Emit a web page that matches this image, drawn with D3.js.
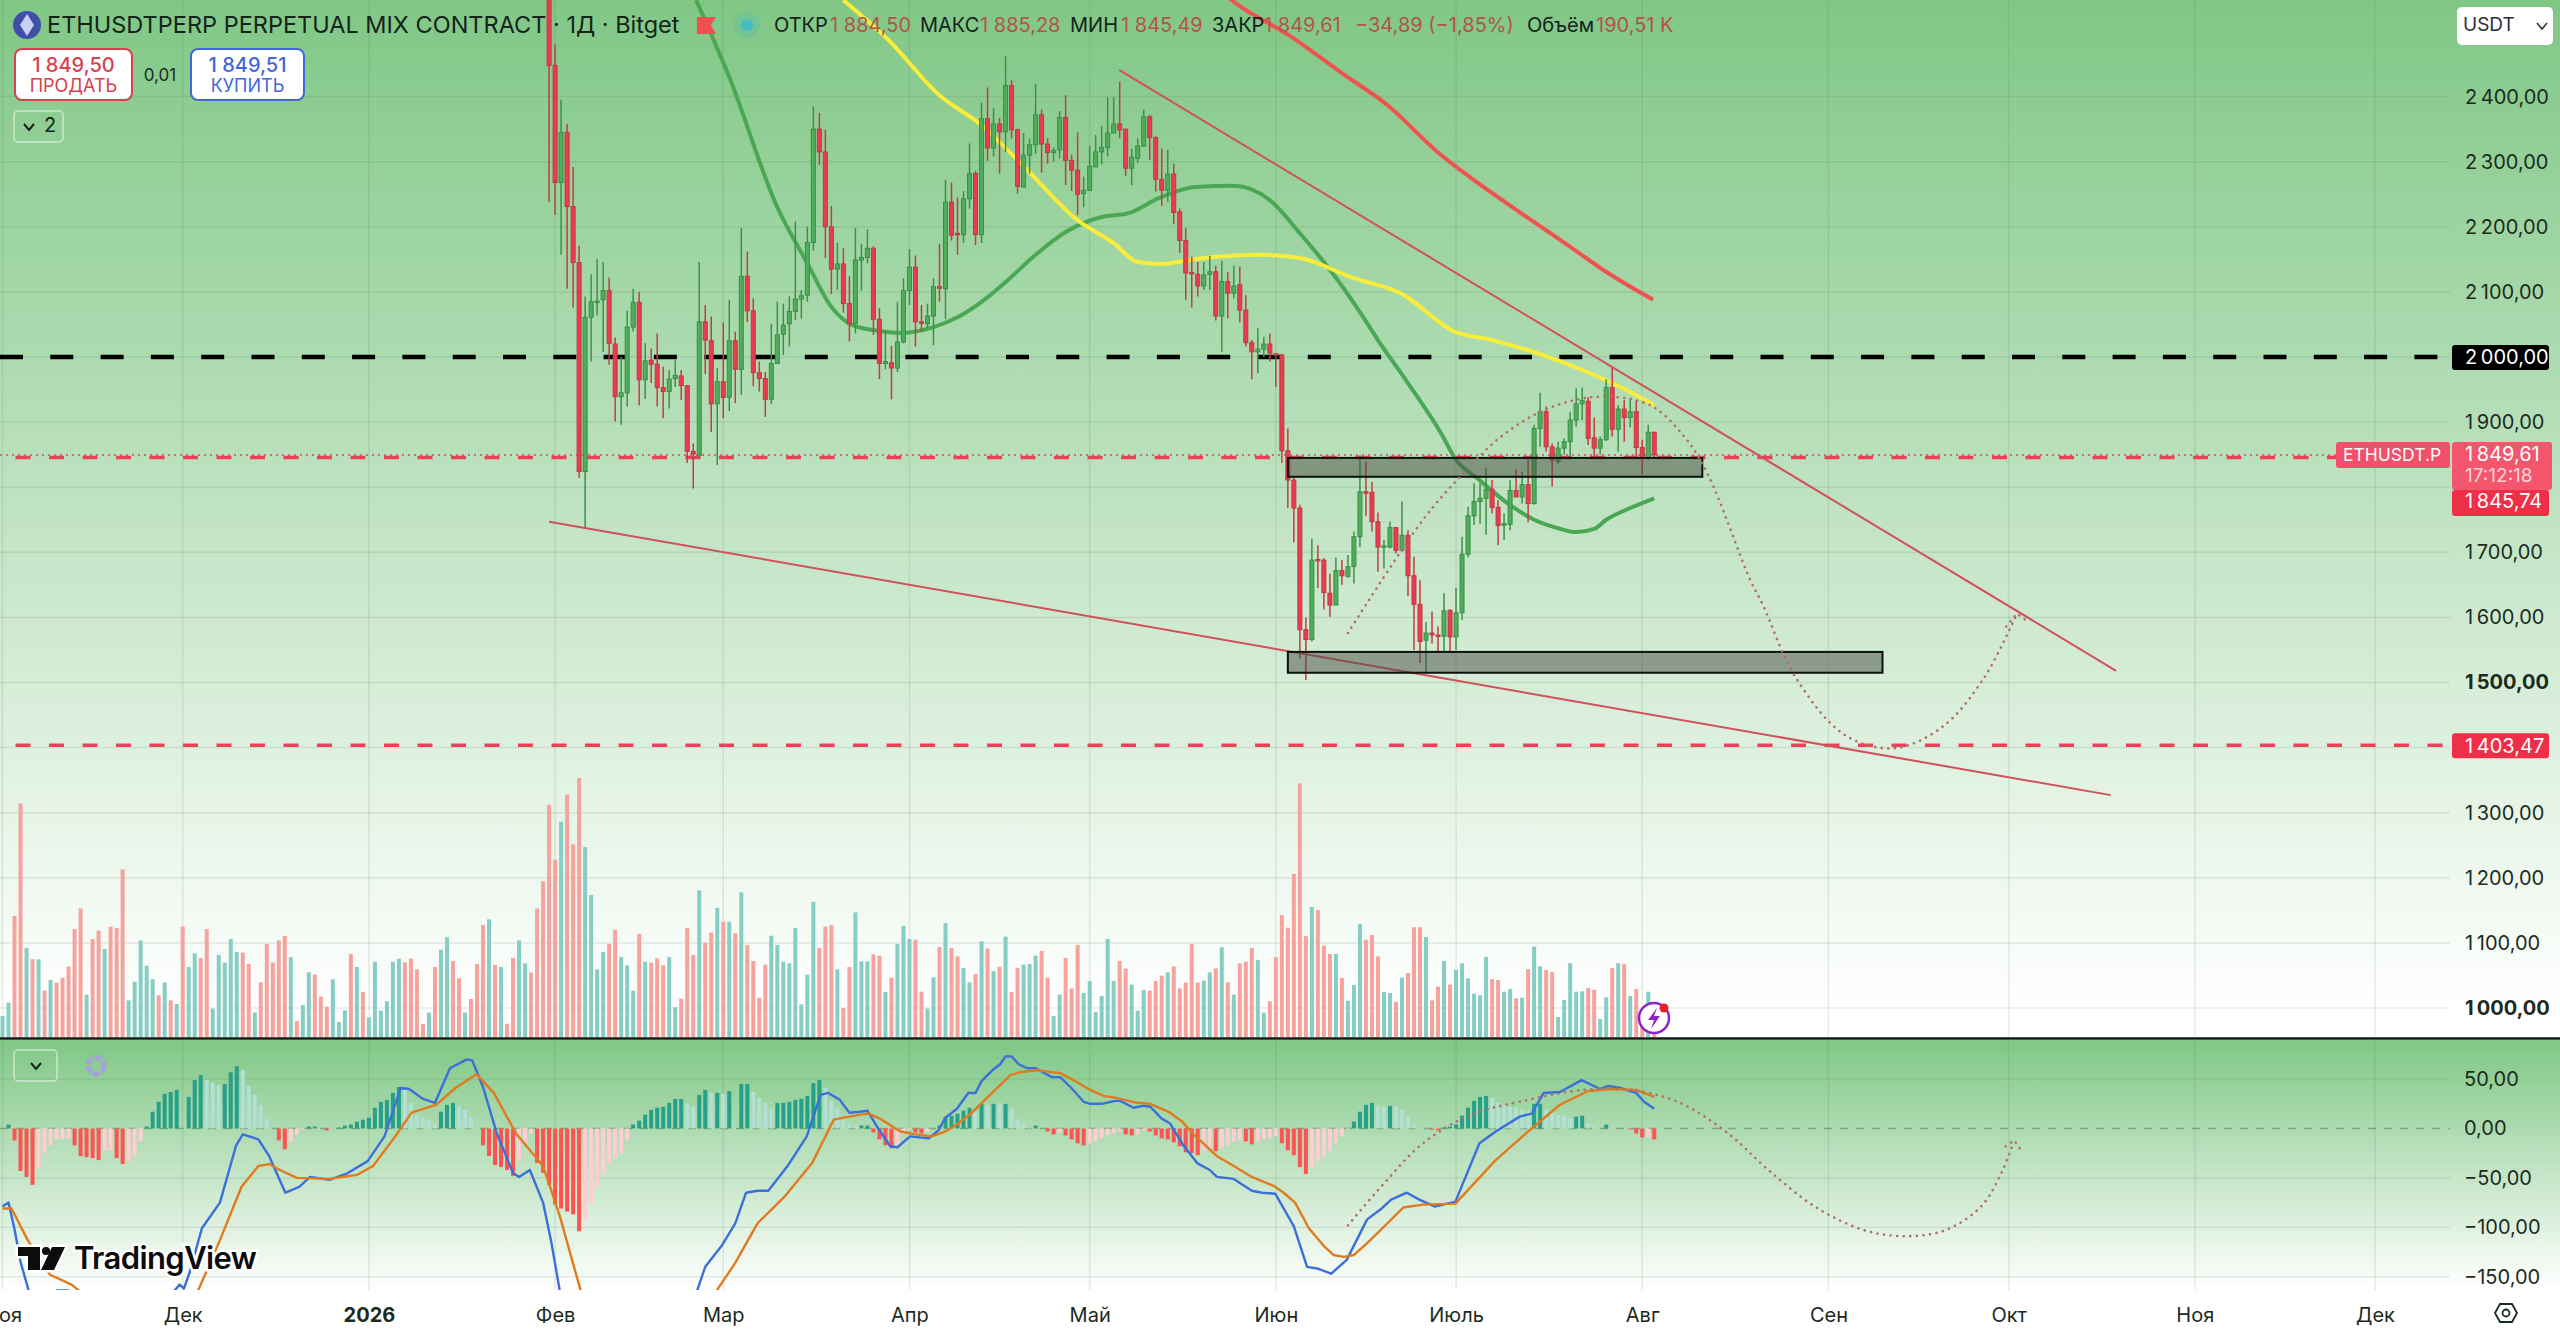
<!DOCTYPE html>
<html>
<head>
<meta charset="utf-8">
<title>ETHUSDT.P</title>
<script src="https://cdn.jsdelivr.net/npm/d3@7"></script>
<style>
  html, body { margin: 0; padding: 0; background: #fff; overflow: hidden; }
  text { font-family: Inter, Roboto, sans-serif; }
</style>
</head>
<body>
<div class="canvas"></div>
<script>
// time
const candleStart = Date.UTC(2026, 0, 31);
const barStart = Date.UTC(2025, 10, 1);
const monthTicks = [[2025,10],[2025,11],[2026,0],[2026,1],[2026,2],[2026,3],[2026,4],[2026,5],[2026,6],[2026,7],[2026,8],[2026,9],[2026,10],[2026,11]];
const monthLabels = ['Ноя','Дек','2026','Фев','Мар','Апр','Май','Июн','Июль','Авг','Сен','Окт','Ноя','Дек'];

// axes
const priceTicks = [2400,2300,2200,2100,2000,1900,1800,1700,1600,1500,1400,1300,1200,1100,1000];
const priceLabels = [2400,2300,2200,2100,1900,1700,1600,1500,1300,1200,1100,1000];
const boldPrices = [1500,1000];
const macdTicks = [50,0,-50,-100,-150];

// daily candles [open, high, low, close]
const candles = [
[2620,2700,2238,2448],[2448,2480,2218,2268],[2268,2395,2157,2345],[2345,2358,2105,2231],[2231,2292,2076,2145],[2145,2171,1814,1824],
[1824,2093,1737,2061],[2061,2127,1993,2085],[2085,2150,2064,2086],[2088,2146,2008,2102],[2102,2122,1988,2021],[2020,2030,1901,1939],
[1939,2000,1896,1945],[1945,2071,1924,2046],[2046,2105,2039,2084],[2084,2100,1926,1965],[1965,2021,1936,1994],[1995,2013,1960,1989],
[1989,2036,1924,1953],[1953,1985,1906,1947],[1947,1980,1921,1966],[1967,1995,1954,1972],[1971,1980,1934,1956],[1956,1956,1837,1855],
[1855,1867,1798,1851],[1849,2146,1844,2054],[2054,2080,1974,2026],[2025,2062,1885,1928],[1928,1983,1834,1962],[1962,2053,1906,1938],
[1938,2088,1917,2025],[2025,2039,1929,1981],[1981,2198,1942,2124],[2124,2162,2054,2071],[2071,2090,1955,1976],[1976,1993,1947,1967],
[1967,1977,1908,1935],[1935,2051,1928,1990],[1990,2085,1990,2034],[2035,2082,2003,2049],[2051,2093,2016,2070],[2070,2208,2057,2089],
[2089,2103,2059,2094],[2095,2200,2085,2176],[2176,2385,2163,2350],[2350,2375,2295,2315],[2315,2349,2152,2200],[2200,2232,2097,2135],
[2135,2175,2103,2143],[2143,2167,2068,2082],[2082,2124,2024,2051],[2051,2198,2036,2149],[2149,2174,2102,2153],[2153,2196,2144,2167],
[2167,2170,2034,2058],[2058,2075,1966,1990],[1990,2041,1981,1993],[1991,2017,1935,1983],[1983,2085,1977,2023],[2023,2121,2021,2102],
[2102,2166,2080,2138],
[2138,2156,2016,2054],[2054,2080,2039,2053],[2051,2082,2044,2063],[2063,2121,2018,2108],[2108,2174,2085,2106],[2105,2272,2058,2238],
[2238,2268,2179,2187],[2190,2245,2157,2188],[2188,2255,2175,2243],[2243,2328,2228,2282],[2282,2286,2172,2188],[2188,2391,2175,2366],
[2366,2414,2301,2321],[2321,2382,2308,2358],[2358,2367,2282,2346],[2346,2462,2315,2417],[2417,2425,2336,2349],[2349,2351,2251,2262],
[2261,2344,2261,2310],[2310,2336,2282,2326],[2326,2420,2312,2372],[2372,2380,2283,2327],[2327,2336,2297,2314],[2314,2322,2300,2317],
[2318,2378,2305,2368],[2368,2402,2264,2302],[2302,2311,2255,2287],[2287,2345,2218,2250],[2251,2277,2230,2256],[2256,2324,2256,2293],
[2292,2341,2292,2315],[2315,2355,2296,2322],[2322,2399,2308,2344],[2344,2399,2344,2358],[2358,2423,2336,2349],[2350,2350,2278,2290],
[2290,2320,2264,2307],[2305,2336,2298,2324],[2324,2380,2323,2369],[2369,2372,2303,2337],[2337,2339,2254,2273],[2273,2320,2232,2256],
[2256,2318,2238,2281],[2281,2297,2204,2222],[2223,2228,2160,2179],[2179,2198,2088,2129],[2130,2154,2076,2129],[2127,2146,2093,2109],
[2109,2146,2103,2126],[2127,2155,2103,2131],[2131,2140,2056,2063],[2063,2148,2008,2116],[2116,2130,2059,2098],[2098,2140,2090,2109],
[2111,2139,2053,2072],[2072,2095,2016,2022],[2022,2026,1966,2008],[2008,2044,1975,2012],[2012,2031,2000,2020],[2020,2036,1993,2006],
[2005,2006,1954,2003],[2003,2005,1837,1856],[1856,1890,1768,1811],[1811,1816,1715,1768],[1768,1773,1537,1581],[1581,1600,1504,1566],
[1566,1721,1563,1688],[1689,1711,1645,1688],[1688,1691,1612,1638],[1637,1667,1601,1619],[1619,1692,1619,1672],[1672,1688,1650,1664],
[1663,1696,1661,1678],[1678,1732,1652,1724],[1724,1849,1708,1793],[1793,1839,1756,1792],[1792,1808,1732,1747],[1747,1761,1670,1708],
[1708,1719,1675,1710],[1708,1747,1706,1738],[1738,1738,1698,1703],[1703,1778,1701,1726],[1726,1734,1633,1664],[1664,1693,1550,1620],
[1620,1657,1530,1563],[1565,1593,1514,1576],[1576,1609,1560,1573],[1573,1586,1546,1571],[1571,1637,1547,1610],[1611,1612,1547,1570],
[1570,1645,1550,1607],[1607,1724,1596,1697],[1697,1770,1692,1756],[1756,1806,1742,1778],[1778,1806,1744,1783],[1783,1830,1727,1797],
[1797,1811,1760,1769],[1769,1780,1711,1741],[1743,1760,1719,1744],[1743,1811,1734,1795],[1795,1827,1785,1785],[1785,1824,1775,1804],
[1804,1842,1746,1775],[1775,1896,1773,1890],[1890,1945,1862,1916],[1916,1924,1855,1862],[1862,1867,1801,1842],[1839,1870,1836,1860],
[1860,1875,1850,1870],[1870,1916,1842,1903],[1903,1952,1893,1928],[1928,1953,1903,1933],[1932,1938,1865,1875],[1876,1907,1844,1860],
[1860,1878,1850,1873],[1873,1966,1871,1953],[1953,1983,1878,1889],[1889,1926,1855,1920],[1920,1934,1870,1907],[1907,1935,1892,1916],
[1916,1933,1847,1861],[1861,1873,1819,1844],[1844,1896,1842,1884.5],[1884.5,1885.28,1845.49,1849.61]
];

// volume in thousands per day from 1 Nov, negative = down day
const volumes = [
158,258,-908,-1753,668,-583,583,-348,428,-408,-443,-530,-810,-965,318,-735,-798,660,-828,-818,
-1258,275,415,725,535,433,-313,410,-275,248,-828,525,628,-593,-810,213,615,558,735,638,
-633,-548,183,-410,-698,-560,-725,-758,600,-120,240,485,-468,-303,-228,433,113,200,-623,525,
-338,148,565,198,268,565,588,-560,-588,-508,-98,183,-525,655,748,-570,-440,183,-285,-548,
-840,883,-540,525,-100,-593,725,553,-483,-965,-1168,-1743,-1330,1615,-1818,-1445,-1943,1425,1065,508,
638,-698,-805,600,538,348,-773,565,-558,-590,-538,600,223,-288,-818,-615,1100,-708,-783,970,
-865,865,-778,1085,-690,-570,-295,-543,760,690,565,553,818,245,468,1015,-668,-828,-840,508,
-218,-525,935,
568,568,-620,-610,338,-445,698,833,735,-730,-340,213,448,-675,855,-668,-605,518,410,-473,
718,-663,495,-528,753,-338,-518,543,548,610,-645,-445,158,318,-593,-365,-690,330,418,188,
308,735,420,-570,-513,393,198,353,-348,-420,-460,485,-530,-365,-408,-700,-408,423,485,-515,
673,-410,318,-553,-565,-668,578,183,-268,-600,-915,-820,-1223,-1903,-758,975,-953,-685,-623,623,
-443,273,390,848,-730,-765,-605,338,330,-263,445,-480,-823,-823,750,-275,-378,570,-393,503,
553,440,325,313,600,-435,-428,340,360,-290,295,-508,678,530,-503,-488,150,278,553,340,
343,-368,-355,135,298,-518,553,-548,308,-360,-103,340,-190.51
];

// MACD histogram per day from 1 Nov
const macdHist = [
0,4,-12,-43,-49,-57,-40,-25,-17,-11,-11,-10,-17,-28,-29,-30,-32,-22,-22,-30,
-36,-33,-27,-13,2,17,27,35,37,39,0,32,49,54,49,46,44,45,57,63,
59,43,34,24,10,0,-12,-21,-13,-6,-1,2,2,0,-2,0,1,3,4,7,
9,11,21,27,29,36,42,39,26,14,11,9,4,17,24,26,22,19,11,0,
-17,-28,-37,-39,-42,-48,-32,-15,-5,-35,-45,-57,-77,-81,-84,-87,-104,-92,-75,-59,
-45,-35,-30,-25,-11,4,8,14,19,21,22,26,30,30,25,22,34,39,36,36,
35,38,0,45,45,37,31,26,20,26,26,27,29,30,33,46,49,41,29,21,
9,5,3,3,3,-4,-11,-17,-20,-17,-5,-1,-4,-5,-3,0,3,12,13,15,
18,21,16,25,24,25,24,25,20,9,5,1,3,0,-3,-6,-4,-7,-11,-15,
-17,-15,-13,-10,-7,-5,-3,-6,-7,-6,-2,-3,-7,-10,-11,-14,-18,-24,-25,-27,
-23,-20,-23,-20,-17,-13,-12,-13,-16,-13,-11,-10,-8,-15,-22,-27,-39,-46,-40,-33,
-28,-23,-15,-8,-1,7,17,24,26,23,22,23,22,19,12,4,0,0,-1,-2,
1,2,4,13,21,28,32,33,31,26,24,22,21,19,18,25,25,19,16,14,
13,10,12,13,5,2,0,4,1,0,0,-1,-5,-9,-9,-11
];

// MACD lines [day from 1 Nov, value]
const macdLine = [
[0,-79],[1,-75],[2,-102],[3,-135],[4.4,-165],[5.5,-190],[8.5,-175],[9,-164],[11,-164],[12.5,-175],[20,-200],[28.5,-165],[29.5,-158],[30.2,-162],[31.2,-145],
[33.2,-101],[36.2,-75],[38.9,-17],[40,-6],[42.6,-11],[44.4,-28],[47.1,-65],[49.4,-59],[51.2,-49],[54.4,-52],[57.2,-46],[60.8,-33],[63.6,-8],[66.3,41],
[67.7,40],[70,30],[72,26],[74.5,61],[77.3,70],[78.2,69],[80,42],[82.3,-5],[85,-45],[86,-49],[87.8,-42],[90,-75],[91.4,-116],[92.8,-165],[94.6,-224],
[113,-224],[115.6,-165],[117,-140],[119.7,-119],[122,-96],[123.8,-65],[125.7,-63],[127.5,-63],[130.7,-38],[133.9,-8],[136.2,34],[137.5,36],[139.4,29],[141,16],
[142.8,17],[144,18],[145.6,2],[147.8,-18],[149,-19],[151.1,-8],[154.2,-10],[155.8,-2],[157,11],[158.9,20],[160.8,36],[162,36],[163,48],[165,60],[166.1,65],
[167,73],[168,73],[169.2,65],[170.6,61],[172,61],[174.7,52],[176.1,52],[177.8,42],[180,27],[181.1,25],[183,25],[185.3,28],[186.1,28],[188.3,21],[190,23],
[191.1,22],[193,10],[194.4,5],[196.6,-17],[198.9,-35],[201,-42],[202.2,-49],[205,-51],[208,-63],[209.7,-65],[211.9,-66],[215,-99],[217.2,-140],[219.1,-142],
[221.2,-147],[223.8,-133],[225.2,-116],[227.2,-92],[229.4,-82],[231.2,-72],[233.8,-65],[235.9,-72],[238.5,-79],[241.9,-74],[245.9,-15],[248.6,-3],[252.6,12],
[254.6,15],[256.6,36],[259.3,37],[262.9,49],[266,40],[267.3,43],[269.3,41],[272,36],[273.3,27],[275,20]
];
const macdSignal = [
[0,-81],[1.5,-81],[4.2,-113],[7.9,-148],[11.5,-158],[12.9,-165],[15,-187],[30.7,-193],[32.5,-165],[36.2,-113],[39.8,-59],[42.6,-38],[44.4,-36],[46.2,-42],
[49,-50],[54.4,-51],[59,-47],[61.7,-38],[65.4,-8],[68.1,16],[72.2,24],[75.4,41],[78.9,55],[81.8,36],[85.5,-5],[90,-38],[92.8,-89],[96.3,-165],[98,-204],
[117.5,-204],[118.8,-165],[122,-136],[125.7,-96],[130.2,-69],[134.8,-35],[138.4,9],[142.8,14],[144.2,15],[146.1,10],[148.4,1],[149.5,-3],[152,-6],[154.7,-8],
[157,-3],[158.9,4],[161.4,16],[163.9,31],[166.1,44],[167.8,54],[169.4,57],[172.2,59],[176.1,56],[178.3,49],[181.1,39],[183.3,33],[185.5,31],[188.9,26],
[191.1,25],[194.4,16],[196.4,7],[198.3,-6],[202.2,-28],[205,-38],[208,-49],[211.6,-58],[213.3,-65],[215.2,-75],[217.5,-101],[220,-119],[221.6,-128],[223.3,-130],
[225,-128],[227.2,-116],[229.4,-103],[233.2,-80],[236.5,-77],[241.9,-76],[248.6,-32],[254,-3],[259.3,24],[264,38],[268,40],[272,39],[275,32]
];

// moving averages [day from 31 Jan, price]
const maGreen = [[24.5,2548],[30,2430],[38,2230],[43,2144],[47,2077],[50.5,2049],[55,2040],[58.5,2037],[64,2046],[68,2061],[72.5,2088],[76,2115],[81,2157],[86,2192],
[92,2215],[96.5,2221],[101.5,2244],[107.5,2261],[114,2263],[120,2241],[125,2190],[130,2134],[135,2069],[138,2026],[143,1960],[148.5,1883],[151,1842],[154.5,1814],
[159.5,1776],[164,1750],[168,1737],[171,1731],[174,1736],[176,1750],[180,1768],[184,1783]];
const maYellow = [[49,2548],[56.5,2487],[65,2402],[72,2356],[78.5,2298],[88,2210],[94,2175],[98,2146],[102,2143],[106.5,2149],[111,2154],[119,2157],[125,2152],[134,2121],
[142,2097],[150.5,2040],[157,2026],[164.5,2006],[172,1980],[177,1960],[184,1926]];
const maRed = [[112,2560],[114.7,2541],[123.4,2493],[132,2436],[139.7,2386],[147.9,2315],[154.7,2267],[161.5,2223],[169.6,2172],[176.3,2129],[183.8,2088]];

// drawings on the chart [day from 31 Jan, price]
const trendUpper = [[94.9,2441],[260.9,1518]];
const trendLower = [[0,1747],[260,1327]];
const zones = [{from:123,to:192,top:1845,bottom:1816},{from:123,to:222,top:1547,bottom:1515}];
const projection = [[133,1576],[145.5,1750],[152,1819],[158.8,1880],[166.6,1922],[175,1939],[183.3,1926],[188.8,1880],[192.8,1822],[200,1657],[202,1621],[207.6,1507],[215.8,1419],[223.9,1399],[232,1432],[238.9,1507],[244.2,1602]];
const projectionArrow = [[242.6,1586],[244.4,1606],[246.4,1592]];
const macdProjection = [[133,-98],[138.8,-57],[145.5,-15],[153.5,14],[161.5,27],[172.2,39],[180.3,39],[188.3,26],[196.3,-5],[203,-42],[211,-80],[219,-103],[225.8,-109],[232.4,-103],[238.4,-79],[241.8,-45],[243.8,-14]];
const macdProjectionArrow = [[242.5,-18],[243.9,-12],[245.2,-23]];

const lastPrice = 1849.61;
const bidPrice = 1845.74;
const levelBlack = 2000;
const levelRed = 1403.47;

const dims = { width: 2560, height: 1331, plotRight: 2450, mainBottom: 1037, macdTop: 1040, macdBottom: 1290 };

const ruLocale = d3.formatLocale({ decimal: ',', thousands: '\u2009', grouping: [3], currency: ['', ''], minus: '−' });
const fmt = ruLocale.format(',.2f');

const svg = d3.select('.canvas').append('svg')
  .attr('width', dims.width)
  .attr('height', dims.height)
  .style('display', 'block');

const defs = svg.append('defs');
const grad = (id) => {
  const g = defs.append('linearGradient').attr('id', id).attr('x1', 0).attr('x2', 0).attr('y1', 0).attr('y2', 1);
  g.append('stop').attr('offset', '0%').attr('stop-color', '#80c785');
  g.append('stop').attr('offset', '100%').attr('stop-color', '#ffffff');
};
grad('bgMain');
grad('bgMacd');
defs.append('clipPath').attr('id', 'clipMain').append('rect').attr('width', dims.plotRight).attr('height', dims.mainBottom);
defs.append('clipPath').attr('id', 'clipMacd').append('rect').attr('y', dims.macdTop).attr('width', dims.plotRight).attr('height', dims.macdBottom - dims.macdTop);

// scales
const x = d3.scaleUtc().domain([Date.UTC(2025, 11, 1), Date.UTC(2026, 11, 1)]).range([182.7, 2375]);
const yPrice = d3.scaleLinear().domain([1000, 2000]).range([1008, 357]);
const yMacd = d3.scaleLinear().domain([-150, 50]).range([1276.7, 1079.1]);
const yVol = d3.scaleLinear().domain([0, 1943]).range([1037, 778]);

const cDay = d => new Date(candleStart + d * 864e5);
const bDay = d => new Date(barStart + d * 864e5);

// backgrounds
svg.append('rect').attr('width', dims.width).attr('height', 1010).attr('fill', 'url(#bgMain)');
svg.append('rect').attr('y', dims.macdTop).attr('width', dims.width).attr('height', dims.macdBottom - dims.macdTop).attr('fill', 'url(#bgMacd)');

// grid
const gridColor = 'rgba(70,110,80,0.13)';
const grid = svg.append('g').attr('stroke', gridColor).attr('stroke-width', 1.5);
grid.selectAll('.gp').data(priceTicks).enter().append('line')
  .attr('x1', 0).attr('x2', dims.plotRight).attr('y1', yPrice).attr('y2', yPrice);
grid.selectAll('.gm').data(macdTicks.filter(d => d !== 0)).enter().append('line')
  .attr('x1', 0).attr('x2', dims.plotRight).attr('y1', yMacd).attr('y2', yMacd);
const tickDates = monthTicks.map(d => Date.UTC(d[0], d[1], 1));
grid.selectAll('.gv').data(tickDates).enter().append('line')
  .attr('x1', x).attr('x2', x).attr('y1', 0).attr('y2', dims.mainBottom);
grid.selectAll('.gv2').data(tickDates).enter().append('line')
  .attr('x1', x).attr('x2', x).attr('y1', dims.macdTop).attr('y2', dims.macdBottom);

// volume
const main = svg.append('g').attr('clip-path', 'url(#clipMain)');
main.append('g').selectAll('rect').data(volumes).enter().append('rect')
  .attr('x', (d, i) => x(bDay(i)) - 2)
  .attr('width', 4)
  .attr('y', d => yVol(Math.abs(d)))
  .attr('height', d => yVol(0) - yVol(Math.abs(d)))
  .attr('fill', d => d < 0 ? '#f7a39d' : '#86cdc4');

// levels
const hLevel = (g, y, color, w, dash, x2) => g.append('line')
  .attr('x1', 0).attr('x2', x2).attr('y1', y).attr('y2', y)
  .attr('stroke', color).attr('stroke-width', w).attr('stroke-dasharray', dash);
hLevel(main, yPrice(lastPrice), '#e0445a', 1.5, '2,4', dims.plotRight);
hLevel(main, yPrice(bidPrice), '#ee4058', 3.5, '15,18.5', 2336).attr('stroke-dashoffset', 18);
hLevel(main, yPrice(levelRed), '#ee4058', 3.5, '15,18.5', dims.plotRight).attr('stroke-dashoffset', 18);
hLevel(main, yPrice(levelBlack), '#000', 4.5, '23,27.3', dims.plotRight);

// moving averages
const maLine = d3.line().x(d => x(cDay(d[0]))).y(d => yPrice(d[1])).curve(d3.curveMonotoneX);
[[maGreen, '#4aa854'], [maYellow, '#f9ec3a'], [maRed, '#ef5350']].forEach(([data, color]) => {
  main.append('path').attr('d', maLine(data)).attr('fill', 'none')
    .attr('stroke', color).attr('stroke-width', 4).attr('stroke-linejoin', 'round');
});

// candles
const candle = main.append('g').selectAll('g').data(candles).enter().append('g');
candle.append('line')
  .attr('x1', (d, i) => x(cDay(i))).attr('x2', (d, i) => x(cDay(i)))
  .attr('y1', d => yPrice(d[1])).attr('y2', d => yPrice(d[2]))
  .attr('stroke', d => d[3] >= d[0] ? '#3e9049' : '#c13d43')
  .attr('stroke-width', 1.5);
candle.append('rect')
  .attr('x', (d, i) => x(cDay(i)) - 2)
  .attr('width', 4)
  .attr('y', d => yPrice(Math.max(d[0], d[3])))
  .attr('height', d => Math.max(1.5, Math.abs(yPrice(d[0]) - yPrice(d[3]))))
  .attr('fill', d => d[3] >= d[0] ? '#4fad5c' : '#ec3a52')
  .attr('stroke', d => d[3] >= d[0] ? '#3a8f47' : '#bf3a40')
  .attr('stroke-width', 1);

// drawings
const trend = d3.line().x(d => x(cDay(d[0]))).y(d => yPrice(d[1]));
[trendUpper, trendLower].forEach(t => {
  main.append('path').attr('d', trend(t)).attr('fill', 'none').attr('stroke', '#d2505a').attr('stroke-width', 2);
});
main.append('g').selectAll('rect').data(zones).enter().append('rect')
  .attr('x', d => x(cDay(d.from)))
  .attr('width', d => x(cDay(d.to)) - x(cDay(d.from)))
  .attr('y', d => yPrice(d.top))
  .attr('height', d => yPrice(d.bottom) - yPrice(d.top))
  .attr('fill', 'rgba(70,75,65,0.5)')
  .attr('stroke', '#0b120c').attr('stroke-width', 2);

const dotted = (g, path) => g.append('path').attr('d', path).attr('fill', 'none')
  .attr('stroke', '#b0706a').attr('stroke-width', 2.6)
  .attr('stroke-dasharray', '0.1,6.5').attr('stroke-linecap', 'round');
const smooth = d3.line().x(d => x(cDay(d[0]))).y(d => yPrice(d[1])).curve(d3.curveCatmullRom);
dotted(main, smooth(projection));
dotted(main, trend(projectionArrow));

// MACD
svg.append('line').attr('x1', 0).attr('x2', dims.width).attr('y1', 1038.5).attr('y2', 1038.5)
  .attr('stroke', '#0d1a10').attr('stroke-width', 2.5);
const macd = svg.append('g').attr('clip-path', 'url(#clipMacd)');
macd.append('line').attr('x1', 0).attr('x2', dims.plotRight).attr('y1', yMacd(0)).attr('y2', yMacd(0))
  .attr('stroke', 'rgba(60,90,70,0.4)').attr('stroke-width', 1.5).attr('stroke-dasharray', '8,8');

const histColor = (d, i) => {
  const prev = i > 0 ? macdHist[i - 1] : 0;
  if (d >= 0) return d >= prev ? '#26a08a' : '#b2dfd6';
  return d < prev ? '#ff5252' : '#ffcdd2';
};
macd.append('g').selectAll('rect').data(macdHist).enter().append('rect')
  .attr('x', (d, i) => x(bDay(i)) - 2)
  .attr('width', 4)
  .attr('y', d => Math.min(yMacd(d), yMacd(0)))
  .attr('height', d => Math.abs(yMacd(d) - yMacd(0)))
  .attr('fill', histColor);

const macdPath = d3.line().x(d => x(bDay(d[0]))).y(d => yMacd(d[1]));
macd.append('path').attr('d', macdPath(macdLine)).attr('fill', 'none').attr('stroke', '#3b6fd9').attr('stroke-width', 2.4).attr('stroke-linejoin', 'round');
macd.append('path').attr('d', macdPath(macdSignal)).attr('fill', 'none').attr('stroke', '#e07b1f').attr('stroke-width', 2.4).attr('stroke-linejoin', 'round');

const smoothMacd = d3.line().x(d => x(cDay(d[0]))).y(d => yMacd(d[1])).curve(d3.curveCatmullRom);
dotted(macd, smoothMacd(macdProjection));
dotted(macd, d3.line().x(d => x(cDay(d[0]))).y(d => yMacd(d[1]))(macdProjectionArrow));

// axes
const textDark = '#1c2b20';
const priceAxis = svg.append('g').attr('transform', 'translate(2465,0)')
  .call(d3.axisRight(yPrice).tickValues(priceLabels).tickSize(0).tickPadding(0).tickFormat(fmt));
priceAxis.select('.domain').remove();
priceAxis.selectAll('text')
  .attr('font-size', 20)
  .attr('fill', textDark)
  .attr('font-family', 'Inter, Roboto, sans-serif')
  .attr('font-weight', d => boldPrices.includes(d) ? 700 : 400);

const macdAxis = svg.append('g').attr('transform', 'translate(2464,0)')
  .call(d3.axisRight(yMacd).tickValues(macdTicks).tickSize(0).tickPadding(0).tickFormat(fmt));
macdAxis.select('.domain').remove();
macdAxis.selectAll('text').attr('font-size', 20).attr('fill', textDark).attr('font-family', 'Inter, Roboto, sans-serif');

const timeAxis = svg.append('g').attr('transform', 'translate(0,1308)')
  .call(d3.axisBottom(x).tickValues(tickDates).tickSize(0).tickPadding(0).tickFormat((d, i) => monthLabels[i]));
timeAxis.select('.domain').remove();
timeAxis.selectAll('text').attr('font-size', 20).attr('fill', textDark).attr('font-family', 'Inter, Roboto, sans-serif')
  .attr('font-weight', (d, i) => monthLabels[i] === '2026' ? 700 : 400);

// price labels
const tag = (x0, y0, w, h, fill, lines) => {
  svg.append('rect').attr('x', x0).attr('y', y0).attr('width', w).attr('height', h).attr('rx', 3).attr('fill', fill);
  lines.forEach(l => svg.append('text').attr('x', l.x).attr('y', l.y).attr('font-size', l.size || 20)
    .attr('fill', l.color || '#fff').attr('dominant-baseline', 'middle').text(l.t));
};
tag(2452, yPrice(levelBlack) - 12, 97, 25, '#000', [{ x: 2465, y: yPrice(levelBlack) + 2, t: fmt(levelBlack) }]);
tag(2336, 442, 114, 26, '#f2506a', [{ x: 2343, y: 456, t: 'ETHUSDT.P', size: 17.5 }]);
tag(2452, 442, 100, 48, '#f4566e', [{ x: 2465, y: 456, t: fmt(lastPrice) }, { x: 2465, y: 477, t: '17:12:18', color: '#ffd5da', size: 19 }]);
tag(2452, 490, 97, 26, '#ef2f48', [{ x: 2465, y: 503, t: fmt(bidPrice) }]);
tag(2452, yPrice(levelRed) - 12, 97, 25, '#ef2f48', [{ x: 2465, y: yPrice(levelRed) + 2, t: fmt(levelRed) }]);

// header
const label = (x0, y0, t, size, color, weight, anchor) => svg.append('text')
  .attr('x', x0).attr('y', y0 + 2).attr('font-size', size).attr('fill', color)
  .attr('font-weight', weight || 400).attr('text-anchor', anchor || 'start')
  .attr('dominant-baseline', 'middle').text(t);

svg.append('circle').attr('cx', 27).attr('cy', 25).attr('r', 14).attr('fill', '#3f4fa8');
svg.append('path').attr('d', 'M27 14 L34 25 L27 36 L20 25 Z').attr('fill', '#c9cff5');
label(47, 25, 'ETHUSDTPERP PERPETUAL MIX CONTRACT · 1Д · Bitget', 23.5, '#14241a');
svg.append('path').attr('d', 'M697 17 H716 L711 25 L716 34 H697 Z').attr('fill', '#f25050');
svg.append('circle').attr('cx', 747).attr('cy', 25).attr('r', 13).attr('fill', 'rgba(90,190,170,0.35)');
svg.append('circle').attr('cx', 747).attr('cy', 25).attr('r', 6).attr('fill', '#43bfc0');

const ohlcDark = '#14241a';
const ohlcRed = '#b3534a';
[[774, 'ОТКР', ohlcDark], [830, '1 884,50', ohlcRed], [920, 'МАКС', ohlcDark], [980, '1 885,28', ohlcRed],
 [1070, 'МИН', ohlcDark], [1121, '1 845,49', ohlcRed], [1212, 'ЗАКР', ohlcDark], [1264, '1 849,61', ohlcRed],
 [1355, '−34,89 (−1,85%)', ohlcRed], [1527, 'Объём', ohlcDark], [1596, '190,51 K', ohlcRed]].forEach(d => {
  label(d[0], 25, d[1], 20, d[2]);
});

// buy / sell
const btn = (x0, w, color, price, text) => {
  svg.append('rect').attr('x', x0).attr('y', 49).attr('width', w).attr('height', 51).attr('rx', 7)
    .attr('fill', '#fff').attr('stroke', color).attr('stroke-width', 2);
  label(x0 + w / 2, 65, price, 20, color, 500, 'middle');
  label(x0 + w / 2, 85, text, 18, color, 400, 'middle');
};
btn(15, 117, '#d9404f', '1 849,50', 'ПРОДАТЬ');
btn(191, 113, '#3f68d8', '1 849,51', 'КУПИТЬ');
label(160, 74, '0,01', 17, '#1c2b20', 400, 'middle');

const collapse = (x0, y0, w, h) => svg.append('rect').attr('x', x0).attr('y', y0).attr('width', w).attr('height', h)
  .attr('rx', 4).attr('fill', 'none').attr('stroke', 'rgba(255,255,255,0.55)').attr('stroke-width', 1.5);
const chevron = (cx, cy) => svg.append('path')
  .attr('d', `M${cx - 5} ${cy - 3} L${cx} ${cy + 3} L${cx + 5} ${cy - 3}`)
  .attr('fill', 'none').attr('stroke', '#14241a').attr('stroke-width', 2);
collapse(14, 111, 49, 31);
chevron(29, 127);
label(44, 125, '2', 20, '#14241a');
collapse(14, 1050, 43, 31);
chevron(36, 1066);
svg.append('circle').attr('cx', 96).attr('cy', 1066).attr('r', 8).attr('fill', 'none')
  .attr('stroke', '#a9a0e0').attr('stroke-width', 5).attr('stroke-dasharray', '7,2');

// currency box
svg.append('rect').attr('x', 2457).attr('y', 7).attr('width', 96).attr('height', 38).attr('rx', 5).attr('fill', '#fff');
label(2463, 24, 'USDT', 19, '#2a2e39');
chevron(2542, 26).attr('stroke', '#2a2e39').attr('stroke-width', 1.5);

// alert icon over last volume bar
svg.append('circle').attr('cx', 1654).attr('cy', 1018).attr('r', 15).attr('fill', '#fff')
  .attr('stroke', '#8e24c8').attr('stroke-width', 2.5);
svg.append('path').attr('d', 'M1657 1008 L1648 1020 H1654 L1651 1029 L1660 1016 H1654 Z').attr('fill', '#8e24c8');
svg.append('circle').attr('cx', 1664).attr('cy', 1008).attr('r', 4.5).attr('fill', '#e8202a');

// logo
const logo = svg.append('g');
logo.append('path').attr('d', 'M18 1247 H40 V1270 H28 V1256 H18 Z M52 1247 H65 L54 1270 H41 Z').attr('fill', '#0c0c0c')
  .attr('stroke', '#fff').attr('stroke-width', 5).attr('paint-order', 'stroke');
logo.append('circle').attr('cx', 46).attr('cy', 1251).attr('r', 4).attr('fill', '#0c0c0c');
logo.append('text').attr('x', 74).attr('y', 1261).attr('font-size', 31).attr('font-weight', 600)
  .attr('dominant-baseline', 'middle').attr('fill', '#0c0c0c')
  .attr('stroke', '#fff').attr('stroke-width', 5).attr('paint-order', 'stroke').attr('letter-spacing', -0.6)
  .text('TradingView');

// settings
svg.append('path').attr('d', 'M2495 1313 L2500 1304 H2512 L2517 1313 L2512 1322 H2500 Z').attr('fill', 'none')
  .attr('stroke', '#1c2b20').attr('stroke-width', 1.8);
svg.append('circle').attr('cx', 2506).attr('cy', 1313).attr('r', 3.5).attr('fill', 'none').attr('stroke', '#1c2b20').attr('stroke-width', 1.8);
</script>
</body>
</html>
